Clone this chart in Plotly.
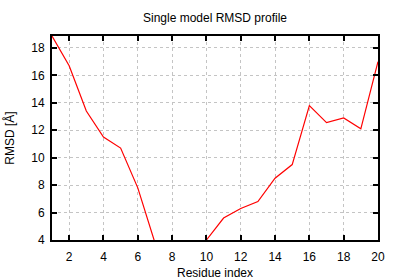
import plotly.graph_objects as go

residues = list(range(1, 21))
rmsd = [18.87, 16.7, 13.4, 11.5, 10.7, 7.8, 3.8, 2.6, 2.9, 4.0,
        5.6, 6.3, 6.8, 8.5, 9.5, 13.8, 12.55, 12.9, 12.1, 17.0]
x_ticks = [2, 4, 6, 8, 10, 12, 14, 16, 18, 20]
y_ticks = [4, 6, 8, 10, 12, 14, 16, 18]

fig = go.Figure()
fig.add_trace(go.Scatter(x=residues, y=rmsd, mode="lines",
                         line=dict(color="#ff0000", width=1.2)))

axis_common = dict(
    showline=True, linecolor="black", linewidth=2, mirror="ticks",
    ticks="inside", ticklen=5, tickwidth=1.5, tickcolor="black",
    showgrid=True, gridcolor="#c4c4c4", gridwidth=1, griddash="dot",
    zeroline=False, tickfont=dict(size=12, color="black"), automargin=False,
)

fig.update_layout(
    width=400, height=280,
    margin=dict(l=52, r=22, t=36, b=40),
    paper_bgcolor="white", plot_bgcolor="white",
    font=dict(family="Liberation Sans, Arial, sans-serif", size=12, color="black"),
    showlegend=False,
    title=dict(text="Single model RMSD profile", x=0.5375, xanchor="center",
               y=1 - 18 / 280, yanchor="middle", font=dict(size=12)),
    xaxis=dict(range=[1, 20], tickvals=x_ticks, ticktext=[str(v) for v in x_ticks],
               ticklabelstandoff=5,
               title=dict(text="Residue index", standoff=6, font=dict(size=12)),
               **axis_common),
    yaxis=dict(range=[4, 18.87], tickvals=y_ticks, ticktext=[str(v) for v in y_ticks],
               ticklabelstandoff=3,
               title=dict(text="RMSD [Å]", standoff=14, font=dict(size=12)),
               **axis_common),
)

fig.write_html("out.html")
